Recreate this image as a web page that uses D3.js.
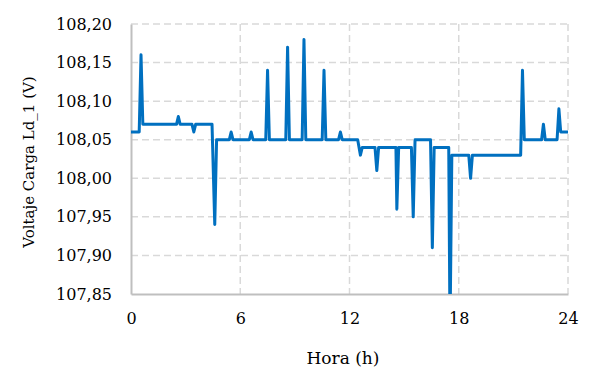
<!DOCTYPE html>
<html>
<head>
<meta charset="utf-8">
<script src="https://cdn.jsdelivr.net/npm/d3@7"></script>
<style>
  html, body { margin: 0; padding: 0; background: #fff; overflow: hidden; }
  svg { display: block; }
  svg text { font-family: "DejaVu Serif", serif; fill: #000; }
</style>
</head>
<body>
<svg id="chart"></svg>
<script>
const width = 593;
const height = 386;

// hour of day and voltage at each breakpoint of the trace
const hours = [0, 0.45, 0.55, 0.65, 2.5, 2.6, 2.7, 3.35, 3.45, 3.55, 4.45, 4.6, 4.7,
    5.4, 5.5, 5.6, 6.5, 6.6, 6.7, 7.4, 7.5, 7.6, 8.5, 8.6, 8.7, 9.4, 9.5, 9.6,
    10.5, 10.6, 10.7, 11.4, 11.5, 11.6, 12.45, 12.6, 12.7, 13.4, 13.5, 13.6,
    14.55, 14.6, 14.7, 15.4, 15.5, 15.6, 16.45, 16.55, 16.65, 17.45, 17.52, 17.62,
    18.55, 18.65, 18.75, 21.4, 21.5, 21.6, 22.55, 22.65, 22.75, 23.4, 23.5, 23.6, 24];
const volts = [108.06, 108.06, 108.16, 108.07, 108.07, 108.08, 108.07, 108.07, 108.06, 108.07, 108.07, 107.94, 108.05,
    108.05, 108.06, 108.05, 108.05, 108.06, 108.05, 108.05, 108.14, 108.05, 108.05, 108.17, 108.05, 108.05, 108.18, 108.05,
    108.05, 108.14, 108.05, 108.05, 108.06, 108.05, 108.05, 108.03, 108.04, 108.04, 108.01, 108.04,
    108.04, 107.96, 108.04, 108.04, 107.95, 108.05, 108.05, 107.91, 108.04, 108.04, 107.80, 108.03,
    108.03, 108.00, 108.03, 108.03, 108.14, 108.05, 108.05, 108.07, 108.05, 108.05, 108.09, 108.06, 108.06];

const xTicks = [0, 6, 12, 18, 24];
const yTicks = [107.85, 107.90, 107.95, 108.00, 108.05, 108.10, 108.15, 108.20];

const data = hours.map((h, i) => ({h: h, v: volts[i]}));

const margin = {top: 24, right: 25, bottom: 92, left: 131};
const innerWidth = width - margin.left - margin.right;
const innerHeight = height - margin.top - margin.bottom;

const svg = d3.select('#chart')
    .attr('width', width)
    .attr('height', height);

const g = svg.append('g')
    .attr('transform', `translate(${margin.left}, ${margin.top})`);

const xScale = d3.scaleLinear().domain([0, 24]).range([0, innerWidth]);
const yScale = d3.scaleLinear().domain([107.85, 108.20]).range([innerHeight, 0]);

const es = d3.formatLocale({decimal: ',', thousands: '.', grouping: [3], currency: ['', '']});
const fmt = es.format('.2f');

// dashed grid
g.append('g').selectAll('line').data(yTicks.slice(1))
    .enter().append('line')
        .attr('x1', 0).attr('x2', innerWidth)
        .attr('y1', d => yScale(d)).attr('y2', d => yScale(d))
        .attr('stroke', '#d9d9d9').attr('stroke-width', 1.5)
        .attr('stroke-dasharray', '7,4');
g.append('g').selectAll('line').data(xTicks.slice(1))
    .enter().append('line')
        .attr('x1', d => xScale(d)).attr('x2', d => xScale(d))
        .attr('y1', 0).attr('y2', innerHeight)
        .attr('stroke', '#d9d9d9').attr('stroke-width', 1.5)
        .attr('stroke-dasharray', '7,4');

const yAxis = d3.axisLeft(yScale).tickValues(yTicks).tickFormat(fmt).tickSize(0).tickPadding(19);
const xAxis = d3.axisBottom(xScale).tickValues(xTicks).tickSize(0).tickPadding(19);

const ya = g.append('g').call(yAxis);
const xa = g.append('g').attr('transform', `translate(0,${innerHeight})`).call(xAxis);
[ya, xa].forEach(a => {
    a.select('.domain').attr('stroke', '#bfbfbf').attr('stroke-width', 2);
    a.selectAll('text').style('font-size', '16px');
});

svg.append('clipPath').attr('id', 'clip')
    .append('rect').attr('x', -5).attr('y', -5)
    .attr('width', innerWidth + 10).attr('height', innerHeight + 5);

const line = d3.line().x(d => xScale(d.h)).y(d => yScale(d.v));

g.append('path')
    .datum(data)
    .attr('clip-path', 'url(#clip)')
    .attr('d', line)
    .attr('fill', 'none')
    .attr('stroke', '#0070c0')
    .attr('stroke-width', 3)
    .attr('stroke-linejoin', 'round');

svg.append('text')
    .attr('x', 343).attr('y', 364)
    .attr('text-anchor', 'middle')
    .style('font-size', '17px')
    .text('Hora (h)');

svg.append('text')
    .attr('transform', 'translate(34,162) rotate(-90)')
    .attr('text-anchor', 'middle')
    .style('font-size', '15px')
    .text('Voltaje Carga Ld_1 (V)');
</script>
</body>
</html>
